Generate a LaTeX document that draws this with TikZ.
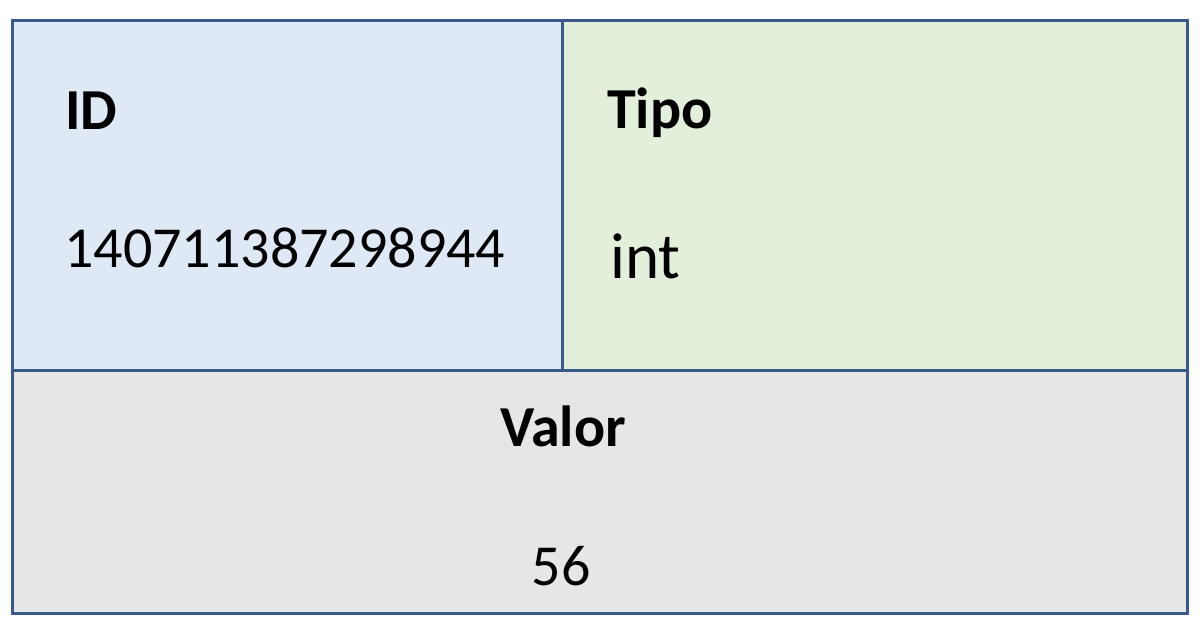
\documentclass[tikz,border=0pt]{standalone}
\usepackage{fontspec}
\setmainfont{Carlito}
\definecolor{edge}{HTML}{3B5A8C}
\definecolor{cellblue}{HTML}{DEE9F5}
\definecolor{cellgreen}{HTML}{E2EFDA}
\definecolor{cellgray}{HTML}{E7E6E6}
\begin{document}
\begin{tikzpicture}[x=1pt,y=-1pt,
  cell/.style={draw=edge,line width=3pt,inner sep=0pt,outer sep=0pt},
  lbl/.style={inner sep=0pt,font=\fontsize{58}{60}\selectfont\bfseries},
  val/.style={inner sep=0pt,font=\fontsize{58}{60}\selectfont}]
\useasboundingbox (0,0) rectangle (1200,636);
\fill[white] (0,0) rectangle (1200,636);
\path[cell,fill=cellblue] (12.5,20.5) rectangle (562.5,370.5);
\path[cell,fill=cellgreen] (562.5,20.5) rectangle (1187,370.5);
\path[cell,fill=cellgray] (12.5,370.5) rectangle (1187,613);
\node[lbl,anchor=base west] (idl) at (65,130) {ID};
\node[val,anchor=base west] (idv) at (64,268) {140711387298944};
\node[lbl,anchor=base west] (tipol) at (607,129) {Tipo};
\node[val,anchor=base west,font=\fontsize{65}{67}\selectfont] (tipov) at (610,279) {int};
\node[lbl,anchor=base] (valorl) at (563,446) {Valor};
\node[val,anchor=base] (valorv) at (561,585) {56};
\end{tikzpicture}
\end{document}
